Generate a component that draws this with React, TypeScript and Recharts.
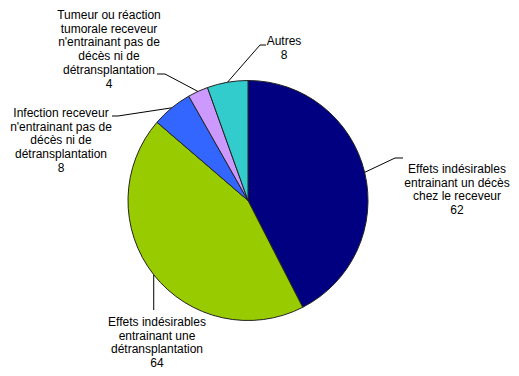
import React from "react";
import { PieChart, Pie, Cell } from "recharts";

const names = [
  "Effets indésirables entrainant un décès chez le receveur",
  "Effets indésirables entrainant une détransplantation",
  "Infection receveur n'entrainant pas de décès ni de détransplantation",
  "Tumeur ou réaction tumorale receveur n'entrainant pas de décès ni de détransplantation",
  "Autres",
];
const labelLines = [
  ["Effets indésirables", "entrainant un décès", "chez le receveur"],
  ["Effets indésirables", "entrainant une", "détransplantation"],
  ["Infection receveur", "n'entrainant pas de", "décès ni de", "détransplantation"],
  ["Tumeur ou réaction", "tumorale receveur", "n'entrainant pas de", "décès ni de", "détransplantation"],
  ["Autres"],
];
const values = [62, 64, 8, 4, 8];
const colors = ["#000080", "#99CC00", "#3366FF", "#CC99FF", "#33CCCC"];

const data = names.map((name, i) => ({ name, value: values[i] }));

// label placement, relative to pie centre
const labelPos = [
  { elbow: [147, -42.5], end: [155, -42.5], tx: 209, ty: -31.5 },
  { elbow: null, end: [null, 109.5], tx: -91, ty: 121.5 },
  { elbow: [-130, -84.5], end: [-136, -84.5], tx: -187, ty: -87.5 },
  { elbow: [-83, -126.5], end: [-91, -126.5], tx: -139, ty: -185.5 },
  { elbow: [12, -155.5], end: [18, -155.5], tx: 36, ty: -159.5 },
];

const RAD = Math.PI / 180;
const LH = 13.7;

const renderLabel = (props: any) => {
  const { cx, cy, midAngle, outerRadius, index, value } = props;
  const sx = cx + outerRadius * Math.cos(-midAngle * RAD);
  const sy = cy + outerRadius * Math.sin(-midAngle * RAD);
  const p = labelPos[index];
  const pts: number[][] = [[sx, sy]];
  if (p.elbow) pts.push([cx + p.elbow[0], cy + p.elbow[1]]);
  pts.push([p.end[0] == null ? sx : cx + p.end[0], cy + p.end[1]]);
  const lines = [...labelLines[index], String(value)];
  return (
    <g key={`lbl-${index}`}>
      <polyline
        points={pts.map((q) => q.join(",")).join(" ")}
        fill="none"
        stroke="#000"
        strokeWidth={1}
      />
      <text
        x={cx + p.tx}
        y={cy + p.ty}
        textAnchor="middle"
        fontSize={12}
        fill="#000"
        fontFamily="'Liberation Sans', Arial, sans-serif"
      >
        {lines.map((l, i) => (
          <tspan key={i} x={cx + p.tx} y={cy + p.ty + i * LH} dominantBaseline="central">
            {l}
          </tspan>
        ))}
      </text>
    </g>
  );
};

export default function App() {
  return (
    <div style={{ position: "absolute", left: 0, top: 0, width: 519, height: 376, background: "#fff" }}>
      <PieChart width={519} height={376} margin={{ top: 0, right: 0, bottom: 0, left: 0 }}>
        <Pie
          data={data}
          dataKey="value"
          nameKey="name"
          cx={248}
          cy={200.5}
          outerRadius={120}
          startAngle={90}
          endAngle={-270}
          stroke="#222"
          strokeWidth={1}
          label={renderLabel}
          labelLine={false}
          isAnimationActive={false}
        >
          {data.map((d, i) => (
            <Cell key={d.name} fill={colors[i]} />
          ))}
        </Pie>
      </PieChart>
    </div>
  );
}
